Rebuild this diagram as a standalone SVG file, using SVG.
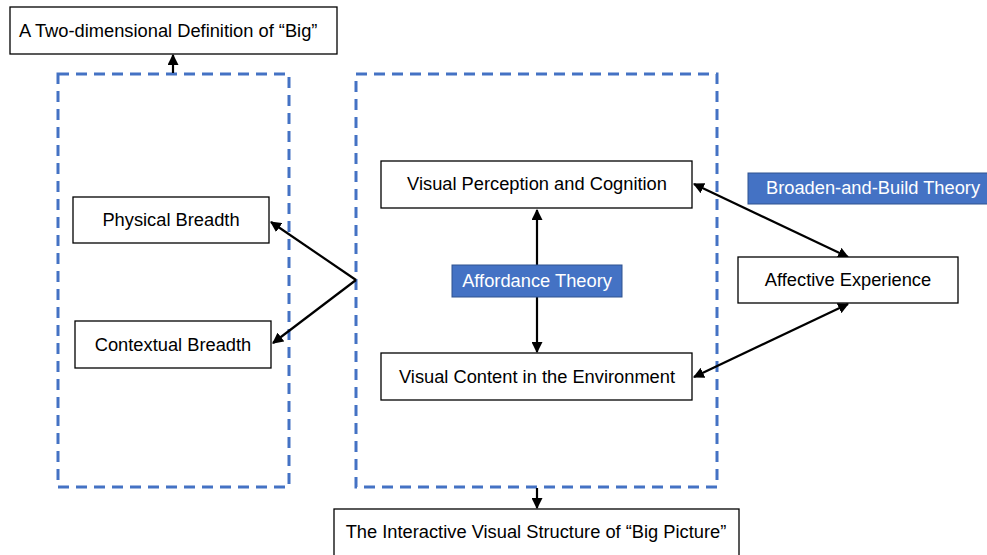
<svg xmlns="http://www.w3.org/2000/svg" width="987" height="555" viewBox="0 0 987 555">
<defs>
<style>
.box{fill:#fff;stroke:#000;stroke-width:1.3}
.dash{fill:none;stroke:#4472C4;stroke-width:3;stroke-dasharray:11 7}
.lbl{fill:#4472C4;stroke:#2F528F;stroke-width:1}
text{font-family:"Liberation Sans",Arial,sans-serif;font-size:18.3px;fill:#000}
.w{fill:#fff}
.c{stroke:#000;stroke-width:2.2;fill:none}
</style>
<marker id="ah" viewBox="0 0 10 10" refX="9" refY="5" markerWidth="5" markerHeight="5" orient="auto-start-reverse" markerUnits="strokeWidth">
<path d="M0,0 L10,5 L0,10 z" fill="#000"/>
</marker>
</defs>
<rect width="987" height="555" fill="#fff"/>
<g id="groups">
<rect class="dash" x="58" y="74" width="231" height="413"/>
<rect class="dash" x="356" y="74" width="361" height="413"/>
</g>
<g id="connectors">
<line class="c" x1="173" y1="73" x2="173" y2="55" marker-end="url(#ah)"/>
<line class="c" x1="356" y1="280" x2="271" y2="222" marker-end="url(#ah)"/>
<line class="c" x1="356" y1="280" x2="273" y2="343" marker-end="url(#ah)"/>
<line class="c" x1="537" y1="210" x2="537" y2="352" marker-start="url(#ah)" marker-end="url(#ah)"/>
<line class="c" x1="694" y1="184" x2="848" y2="257" marker-start="url(#ah)" marker-end="url(#ah)"/>
<line class="c" x1="848" y1="304" x2="694" y2="377" marker-start="url(#ah)" marker-end="url(#ah)"/>
<line class="c" x1="537" y1="488" x2="537" y2="508" marker-end="url(#ah)"/>
</g>
<g id="n-big">
<rect class="box" x="10" y="7" width="327" height="47"/>
<text x="19" y="37">A Two-dimensional Definition of “Big”</text>
</g>
<g id="n-physical">
<rect class="box" x="73" y="197" width="196" height="46"/>
<text x="171" y="226" text-anchor="middle">Physical Breadth</text>
</g>
<g id="n-contextual">
<rect class="box" x="75" y="321" width="196" height="47"/>
<text x="173" y="351" text-anchor="middle">Contextual Breadth</text>
</g>
<g id="n-perception">
<rect class="box" x="381" y="161" width="311" height="47"/>
<text x="537" y="190" text-anchor="middle">Visual Perception and Cognition</text>
</g>
<g id="n-content">
<rect class="box" x="381" y="353" width="311" height="47"/>
<text x="537" y="383" text-anchor="middle">Visual Content in the Environment</text>
</g>
<g id="n-affordance">
<rect class="lbl" x="452" y="265" width="170" height="32"/>
<text class="w" x="537" y="287" text-anchor="middle">Affordance Theory</text>
</g>
<g id="n-affective">
<rect class="box" x="738" y="257" width="220" height="46"/>
<text x="848" y="286" text-anchor="middle">Affective Experience</text>
</g>
<g id="n-broaden">
<rect class="lbl" x="748" y="173" width="245" height="31"/>
<text class="w" x="766" y="194">Broaden-and-Build Theory</text>
</g>
<g id="n-structure">
<rect class="box" x="334" y="509" width="405" height="60"/>
<text x="536" y="538" text-anchor="middle">The Interactive Visual Structure of “Big Picture”</text>
</g>
</svg>
